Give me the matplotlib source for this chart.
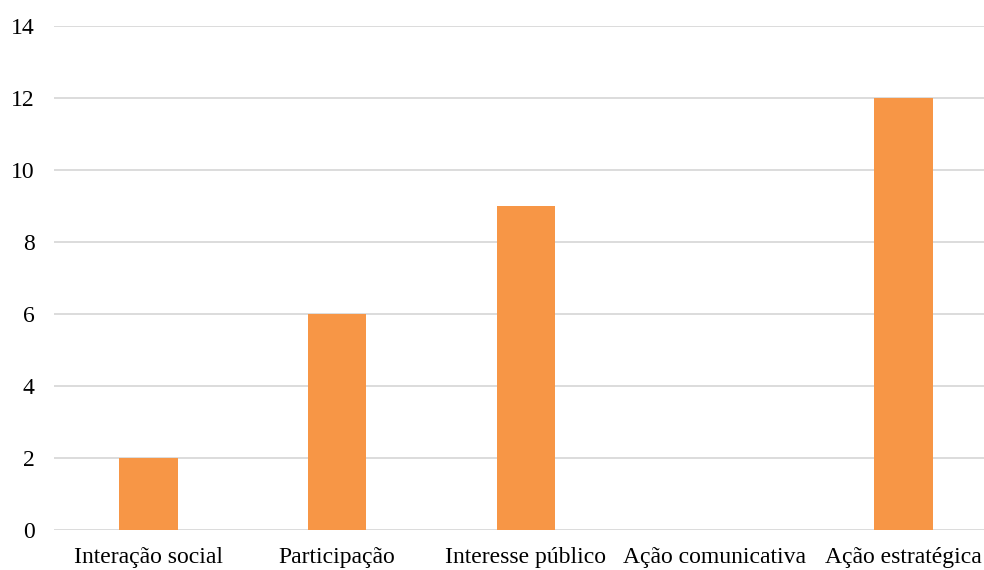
import matplotlib
matplotlib.use("Agg")
import matplotlib.pyplot as plt

categories = ["Interação social", "Participação", "Interesse público",
              "Ação comunicativa", "Ação estratégica"]
values = [2, 6, 9, 0, 12]
yticks = [0, 2, 4, 6, 8, 10, 12, 14]

plt.rcParams["font.family"] = ["Liberation Serif", "DejaVu Serif"]

fig = plt.figure(figsize=(9.84, 5.70), dpi=100)
ax = fig.add_axes([0.055, 0.0702, 0.959, 0.8847])

x = list(range(len(categories)))
ax.bar(x, values, width=0.31, color="#F79646", zorder=3)

ax.set_xlim(-0.5, len(categories) - 0.5)
ax.set_ylim(0, 14)
ax.set_yticks(yticks)
ax.set_xticks(x)
ax.set_xticklabels(categories)
ax.yaxis.grid(True, color="#D9D9D9", linewidth=1.3, zorder=0)
for s in ax.spines.values():
    s.set_visible(False)
ax.tick_params(axis="both", length=0, labelsize=17, colors="#000000")
ax.tick_params(axis="y", pad=14)
ax.tick_params(axis="x", pad=12)

fig.savefig("out.png", dpi=100)
